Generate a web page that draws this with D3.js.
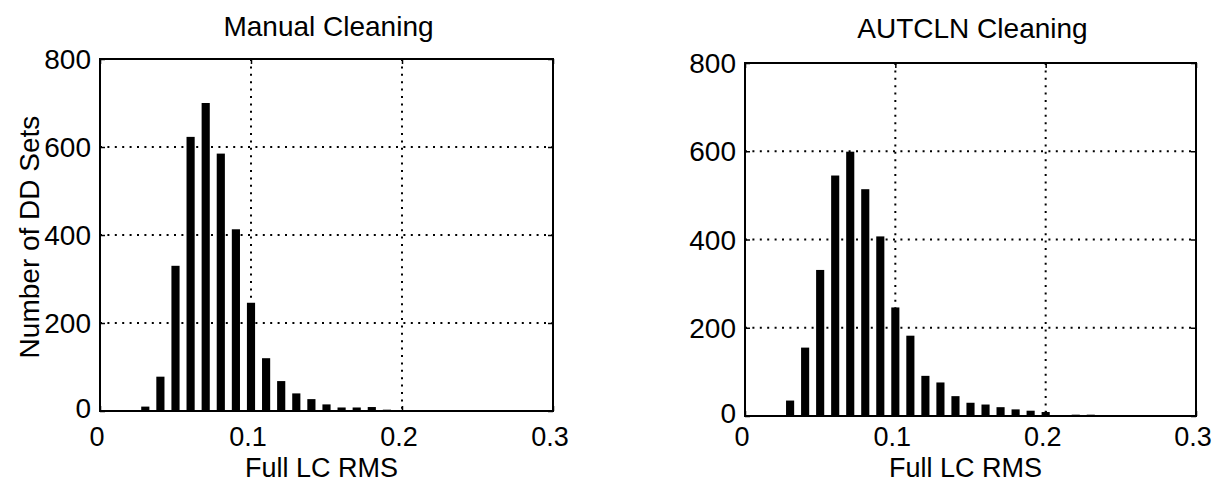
<!DOCTYPE html>
<html><head><meta charset="utf-8">
<script src="https://cdn.jsdelivr.net/npm/d3@7"></script>
<style>
html,body{margin:0;padding:0;background:#fff;}
text{font-family:"Liberation Sans",Arial,Helvetica,sans-serif;fill:#000;}
</style></head>
<body><svg id="c" width="1217" height="484"></svg>
<script>
// Bin centres (Full LC RMS)
const binCenters = [0.01,0.02,0.03,0.04,0.05,0.06,0.07,0.08,0.09,0.10,0.11,0.12,0.13,0.14,0.15,0.16,0.17,0.18,0.19,0.20,0.21,0.22,0.23,0.24];
// Counts, Manual Cleaning
const manualCounts = [0,2,10,78,330,623,700,585,413,246,120,68,40,27,15,8,8,9,3,1,1,2,1,1];
// Counts, AUTCLN Cleaning
const autclnCounts = [0,2,35,155,331,545,599,514,407,246,182,91,76,45,30,26,20,15,12,9,2,3,3,1];
const xTicks = [0,0.1,0.2,0.3];
const xTickLabels = ["0","0.1","0.2","0.3"];
const yTicks = [0,200,400,600,800];
const yTickLabels = ["0","200","400","600","800"];
const titles = ["Manual Cleaning","AUTCLN Cleaning"];
const xLabel = "Full LC RMS";
const yLabel = "Number of DD Sets";

const svg = d3.select("#c");
const FS = 28;
const FSX = 27;

function panel(cfg){
  const {left,right,top,bottom,counts,title,showY,titleY} = cfg;
  const x = d3.scaleLinear().domain([0,0.3]).range([left,right]);
  const y = d3.scaleLinear().domain([0,800]).range([bottom,top]);
  const g = svg.append("g");
  // grid
  g.selectAll(".gx").data([0.1,0.2]).enter().append("line")
    .attr("x1",d=>x(d)).attr("x2",d=>x(d)).attr("y1",top).attr("y2",bottom)
    .attr("stroke","#000").attr("stroke-width",2).attr("stroke-dasharray","2,5.4");
  g.selectAll(".gy").data([200,400,600]).enter().append("line")
    .attr("x1",left).attr("x2",right).attr("y1",d=>y(d)).attr("y2",d=>y(d))
    .attr("stroke","#000").attr("stroke-width",2).attr("stroke-dasharray","2,5.4");
  // bars
  const bw = (x(0.01)-x(0))*0.54;
  g.selectAll(".bar").data(binCenters.map((c,i)=>({c,v:counts[i]}))).enter().append("rect")
    .attr("x",d=>x(d.c)-bw/2).attr("width",bw)
    .attr("y",d=>y(d.v)).attr("height",d=>bottom-y(d.v))
    .attr("fill","#000");
  // axes with inward ticks
  const ax = [
    [d3.axisBottom(x).tickValues(xTicks).tickSize(-5), `translate(0,${bottom})`],
    [d3.axisTop(x).tickValues(xTicks).tickSize(-5), `translate(0,${top})`],
    [d3.axisLeft(y).tickValues(yTicks).tickSize(-5), `translate(${left},0)`],
    [d3.axisRight(y).tickValues(yTicks).tickSize(-5), `translate(${right},0)`]
  ];
  ax.forEach(([a,t])=>{
    const ag = g.append("g").attr("transform",t).call(a.tickSizeOuter(0).tickFormat(""));
    ag.select(".domain").remove();
    ag.selectAll("line").attr("stroke","#000").attr("stroke-width",1.5);
  });
  // box
  g.append("rect").attr("x",left).attr("y",top).attr("width",right-left).attr("height",bottom-top)
    .attr("fill","none").attr("stroke","#000").attr("stroke-width",2);
  // tick labels
  g.selectAll(".xl").data(xTicks).enter().append("text")
    .attr("x",(d)=>x(d)-3).attr("y",446).attr("text-anchor","middle")
    .attr("font-size",FSX).text((d,i)=>xTickLabels[i]);
  g.selectAll(".yl").data(yTicks).enter().append("text")
    .attr("x",left-9).attr("y",d=>y(d)+(d===0?7:10)).attr("text-anchor","end")
    .attr("font-size",FS).text((d,i)=>yTickLabels[i]);
  g.append("text").attr("x",(left+right)/2+2).attr("y",titleY).attr("text-anchor","middle")
    .attr("font-size",FS).text(title);
  g.append("text").attr("x",(left+right)/2-5).attr("y",477).attr("text-anchor","middle")
    .attr("font-size",FSX).text(xLabel);
  if(showY){
    g.append("text").attr("transform",`translate(39,${(top+bottom)/2+2}) rotate(-90)`)
      .attr("text-anchor","middle").attr("font-size",FS).text(yLabel);
  }
}
panel({left:100,right:553,top:59,bottom:411,counts:manualCounts,title:titles[0],showY:true,titleY:36});
panel({left:745,right:1196,top:63,bottom:416,counts:autclnCounts,title:titles[1],showY:false,titleY:38});
</script></body></html>
